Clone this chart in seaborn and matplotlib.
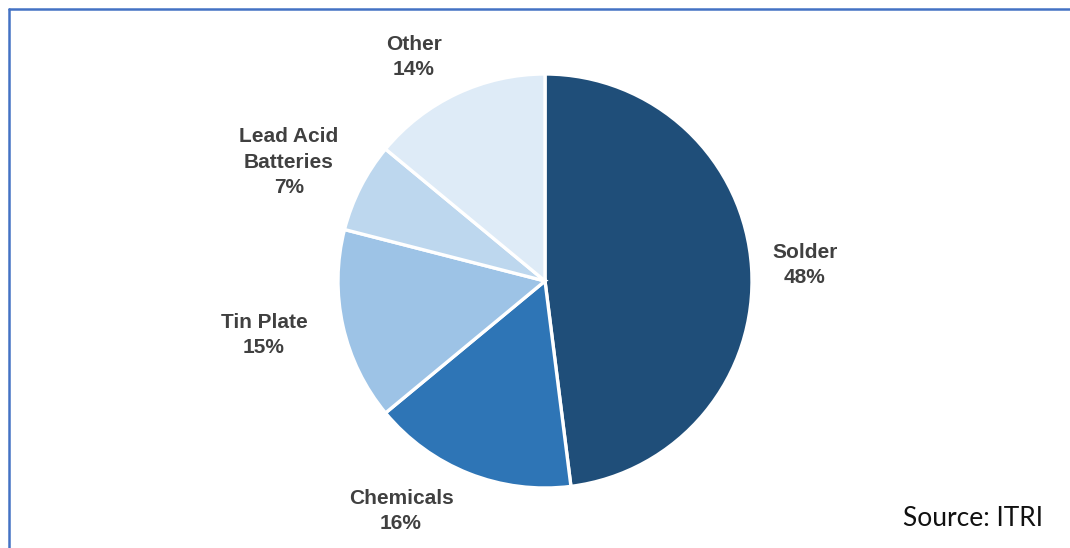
import matplotlib
matplotlib.use("Agg")
import matplotlib.pyplot as plt
import seaborn as sns
from matplotlib.lines import Line2D

# Tin end-use shares (%)
categories = ["Solder", "Chemicals", "Tin Plate", "Lead Acid\nBatteries", "Other"]
shares = [48, 16, 15, 7, 14]
colors = ["#1f4e79", "#2e75b6", "#9dc3e6", "#bdd7ee", "#deebf7"]

sns.set_style("white")
plt.rcParams["font.family"] = ["Liberation Sans", "DejaVu Sans"]

W, H = 1070, 548
fig = plt.figure(figsize=(W / 100, H / 100), dpi=100)
ax = fig.add_axes([0, 0, 1, 1])
ax.set_xlim(0, W)
ax.set_ylim(0, H)
ax.set_aspect("equal")
ax.axis("off")

ax.pie(shares, colors=colors, startangle=90, counterclock=False,
       center=(545, 267), radius=207,
       wedgeprops=dict(edgecolor="white", linewidth=2.4))
ax.set_xlim(0, W)
ax.set_ylim(0, H)

label_pos = [(805, 283), (401, 37), (264, 213), (289, 386), (414, 491)]
for name, val, (x, y) in zip(categories, shares, label_pos):
    ax.text(x, y, f"{name}\n{val}%", ha="center", va="center",
            multialignment="center", fontsize=15, fontweight="bold",
            color="#404040", linespacing=1.45)

ax.text(973, 29, "Source: ITRI", ha="center", va="center",
        fontsize=19, color="#111111", family=["Lato", "DejaVu Sans"])

# panel frame (top and left edges)
ax.add_line(Line2D([8.5, W], [H - 8.5, H - 8.5], color="#4472c4",
                   linewidth=1.8, clip_on=False))
ax.add_line(Line2D([8.5, 8.5], [0, H - 8.5], color="#4472c4",
                   linewidth=1.8, clip_on=False))

fig.savefig("out.png", dpi=100)
